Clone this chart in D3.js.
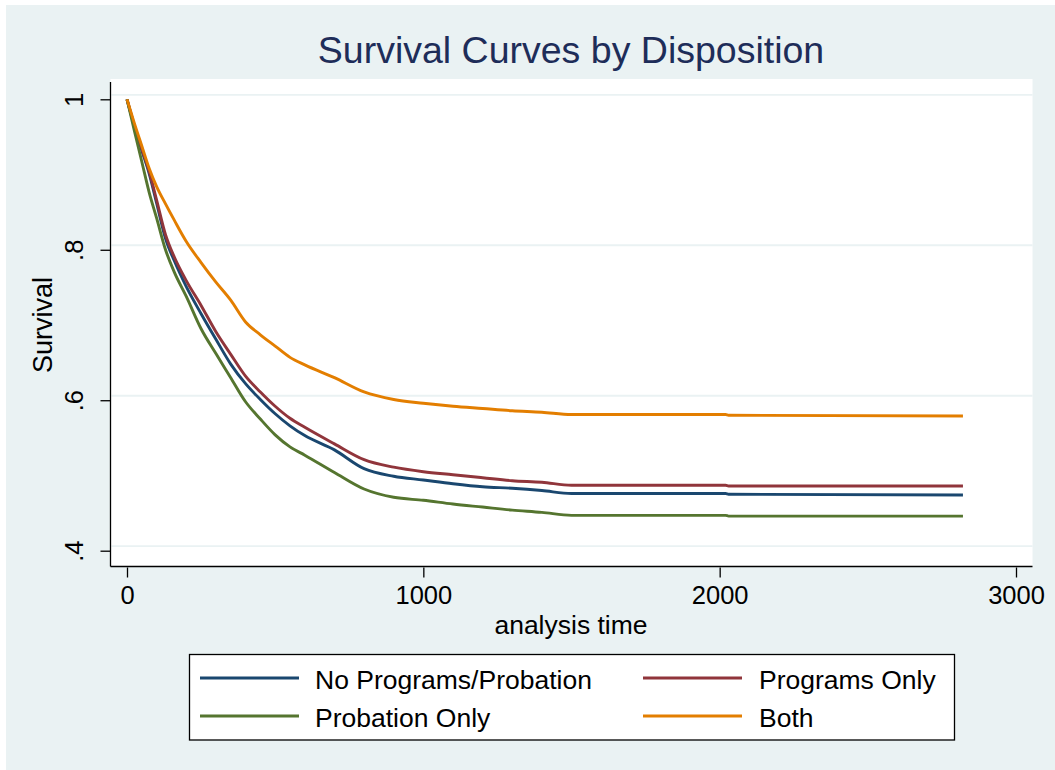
<!DOCTYPE html>
<html>
<head>
<meta charset="utf-8">
<script src="https://cdn.jsdelivr.net/npm/d3@7"></script>
<style>
  body { margin: 0; background: #fff; }
  svg { display: block; font-family: Arial, "Liberation Sans", sans-serif; }
</style>
</head>
<body>
<div id="chart"></div>
<script>
// values
const times = [0, 25, 50, 75, 100, 130, 160, 200, 250, 300, 350, 400, 450, 500, 550, 600,
               700, 800, 900, 1000, 1100, 1200, 1300, 1400, 1500, 2020, 2030, 2821];

const survNoPrograms = [1.0, 0.964, 0.932, 0.901, 0.862, 0.815, 0.785, 0.751, 0.715, 0.681, 0.648, 0.622, 0.601, 0.582, 0.566, 0.553,
                        0.534, 0.509, 0.499, 0.494, 0.489, 0.485, 0.483, 0.480, 0.476, 0.476, 0.475, 0.474];
const survProgramsOnly = [1.0, 0.965, 0.934, 0.904, 0.866, 0.820, 0.790, 0.759, 0.726, 0.691, 0.661, 0.632, 0.611, 0.592, 0.576, 0.564,
                          0.542, 0.521, 0.511, 0.505, 0.501, 0.497, 0.493, 0.491, 0.487, 0.487, 0.486, 0.486];
const survProbationOnly = [1.0, 0.958, 0.917, 0.876, 0.842, 0.800, 0.770, 0.738, 0.695, 0.662, 0.630, 0.598, 0.575, 0.554, 0.538, 0.527,
                           0.504, 0.482, 0.471, 0.467, 0.462, 0.458, 0.454, 0.451, 0.447, 0.447, 0.446, 0.446];
const survBoth = [1.0, 0.968, 0.938, 0.908, 0.884, 0.861, 0.839, 0.811, 0.783, 0.757, 0.733, 0.704, 0.687, 0.672, 0.657, 0.647,
                  0.630, 0.611, 0.601, 0.596, 0.592, 0.589, 0.586, 0.584, 0.581, 0.581, 0.580, 0.579];

const seriesNames = ["No Programs/Probation", "Programs Only", "Probation Only", "Both"];
const seriesColors = ["#1a476f", "#90353b", "#55752f", "#e37e00"];
const seriesValues = [survNoPrograms, survProgramsOnly, survProbationOnly, survBoth];

const xTicks = [0, 1000, 2000, 3000];
const yTicks = [0.4, 0.6, 0.8, 1];

const width = 1055, height = 770;
const plot = { left: 110.5, top: 79, right: 1032.5, bottom: 566.5 };

const svg = d3.select("#chart")
    .append("svg")
    .attr("width", width)
    .attr("height", height);

// graph region
svg.append("rect")
    .attr("x", 6).attr("y", 5)
    .attr("width", width - 6).attr("height", height - 5)
    .attr("fill", "#eaf2f3");

svg.append("rect")
    .attr("x", plot.left).attr("y", plot.top)
    .attr("width", plot.right - plot.left).attr("height", plot.bottom - plot.top)
    .attr("fill", "#fff");

const xScale = d3.scaleLinear().domain([0, 3000]).range([127, 1016]);
const yScale = d3.scaleLinear().domain([0.4, 1]).range([550.7, 99.3]);

// grid lines (Stata draws them a few px above the ticks)
svg.append("g")
    .attr("transform", "translate(0,-4.5)")
    .selectAll("line")
    .data(yTicks)
    .join("line")
        .attr("x1", plot.left + 1).attr("x2", plot.right)
        .attr("y1", d => yScale(d)).attr("y2", d => yScale(d))
        .attr("stroke", "#eaf2f3")
        .attr("stroke-width", 1.8);

// curves
const line = d3.line()
    .x(d => xScale(d[0]))
    .y(d => yScale(d[1]))
    .curve(d3.curveMonotoneX);

svg.append("g")
    .selectAll("path")
    .data(seriesValues)
    .join("path")
        .attr("d", vals => line(times.map((t, i) => [t, vals[i]])))
        .attr("fill", "none")
        .attr("stroke", (d, i) => seriesColors[i])
        .attr("stroke-width", 2.9)
        .attr("stroke-linejoin", "round");

// axes
const xAxis = svg.append("g")
    .attr("transform", "translate(0," + (plot.bottom + 1) + ")")
    .call(d3.axisBottom(xScale).tickValues(xTicks).tickSize(10).tickSizeOuter(0).tickFormat(d3.format("d")));
xAxis.select(".domain").remove();
xAxis.selectAll(".tick line").attr("stroke", "#000").attr("stroke-width", 1.3);
xAxis.selectAll(".tick text")
    .attr("y", 36).attr("dy", null)
    .attr("font-size", 25.5).attr("fill", "#000");

const yAxis = svg.append("g")
    .attr("transform", "translate(" + plot.left + ",0)")
    .call(d3.axisLeft(yScale).tickValues(yTicks).tickSize(10).tickSizeOuter(0)
        .tickFormat(d => d === 1 ? "1" : d3.format(".1f")(d).replace(/^0/, "")));
yAxis.select(".domain").remove();
yAxis.selectAll(".tick line").attr("stroke", "#000").attr("stroke-width", 1.3);
yAxis.selectAll(".tick text")
    .attr("x", null).attr("dy", null)
    .attr("transform", "translate(-28,0) rotate(-90)")
    .attr("text-anchor", "middle")
    .attr("font-size", 25.5).attr("fill", "#000");

// axis lines
svg.append("line")
    .attr("x1", plot.left).attr("x2", plot.left)
    .attr("y1", plot.top + 3).attr("y2", plot.bottom)
    .attr("stroke", "#000").attr("stroke-width", 1.3);
svg.append("line")
    .attr("x1", plot.left).attr("x2", plot.right)
    .attr("y1", plot.bottom).attr("y2", plot.bottom)
    .attr("stroke", "#000").attr("stroke-width", 1.3);

// titles
svg.append("text")
    .attr("x", 571).attr("y", 63)
    .attr("text-anchor", "middle")
    .attr("font-size", 37.5)
    .attr("fill", "#1e2d59")
    .text("Survival Curves by Disposition");

svg.append("text")
    .attr("x", 571).attr("y", 634)
    .attr("text-anchor", "middle")
    .attr("font-size", 26.5)
    .text("analysis time");

svg.append("text")
    .attr("transform", "translate(52,325) rotate(-90)")
    .attr("text-anchor", "middle")
    .attr("font-size", 27)
    .text("Survival");

// legend
const legend = svg.append("g");
legend.append("rect")
    .attr("x", 189.5).attr("y", 654.5)
    .attr("width", 765).attr("height", 85.5)
    .attr("fill", "#fff")
    .attr("stroke", "#000")
    .attr("stroke-width", 1.3);

const legendItems = legend.selectAll("g.item")
    .data(seriesNames)
    .join("g")
        .attr("class", "item")
        .attr("transform", (d, i) => "translate(" + (i % 2 === 0 ? 200 : 643) + "," + (i < 2 ? 678 : 716) + ")");

legendItems.append("line")
    .attr("x1", 0).attr("x2", 99)
    .attr("stroke", (d, i) => seriesColors[i])
    .attr("stroke-width", 2.9);

legendItems.append("text")
    .attr("x", (d, i) => i % 2 === 0 ? 115 : 116)
    .attr("y", 11)
    .attr("font-size", 26.5)
    .text(d => d);
</script>
</body>
</html>
